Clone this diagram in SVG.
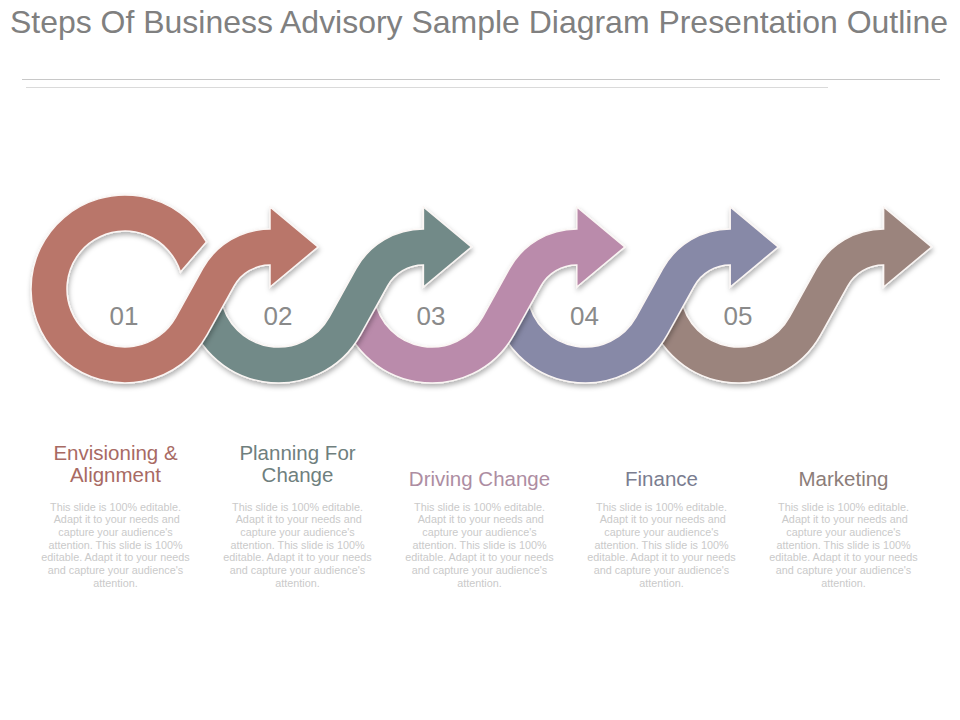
<svg xmlns="http://www.w3.org/2000/svg" xmlns:xlink="http://www.w3.org/1999/xlink" width="960" height="720" viewBox="0 0 960 720">
<style>
.t{font-family:"Liberation Sans",Arial,sans-serif}
.num{font-size:26px;fill:#8a8a8a;text-anchor:middle}
.hd{font-size:20.5px;text-anchor:middle}
.bd{font-size:10.8px;fill:#cacaca;text-anchor:middle}
.shape{stroke:#fbf6f4;stroke-width:1.5;stroke-linejoin:miter;filter:url(#sh)}
</style>
<defs>
<filter id="sh" x="-20%" y="-20%" width="140%" height="150%">
<feDropShadow dx="1" dy="3" stdDeviation="2.5" flood-color="#000" flood-opacity="0.3"/>
</filter>
<path id="sArrow" d="M -92.57 305.32 A 94 94 0 0 0 82.21 334.57 L 109.07 286.12 A 41 41 0 0 1 145 265 L 145 287 L 193 247 L 145 207 L 145 229 A 77 77 0 0 0 77.59 268.67 L 50.73 317.12 A 58 58 0 0 1 -57.12 299.07 Z"/>
</defs>
<rect width="960" height="720" fill="#ffffff"/>
<text class="t" x="10" y="33" font-size="32" fill="#808080" textLength="938" lengthAdjust="spacingAndGlyphs">Steps Of Business Advisory Sample Diagram Presentation Outline</text>
<line x1="22" y1="79.5" x2="940" y2="79.5" stroke="#c8c8c8" stroke-width="1"/>
<line x1="26" y1="87.5" x2="828" y2="87.5" stroke="#dadada" stroke-width="1"/>

<g id="step5">
<use xlink:href="#sArrow" href="#sArrow" x="738.6" class="shape" fill="#9B847D"/>
<text class="t num" x="738" y="325">05</text>
<text class="t hd" x="843.5" y="486" fill="#8C7D79">Marketing</text>
<text class="t bd" x="843.5" y="510.5">This slide is 100% editable.<tspan x="843.5" dy="12.67"> Adapt it to your needs and</tspan><tspan x="843.5" dy="12.67">capture your audience's</tspan><tspan x="843.5" dy="12.67">attention. This slide is 100%</tspan><tspan x="843.5" dy="12.67">editable.  Adapt it to your needs</tspan><tspan x="843.5" dy="12.67">and capture your audience's</tspan><tspan x="843.5" dy="12.67">attention.</tspan></text>
</g>

<g id="step4">
<use xlink:href="#sArrow" href="#sArrow" x="585.2" class="shape" fill="#8789A7"/>
<text class="t num" x="584.5" y="325">04</text>
<text class="t hd" x="661.5" y="486" fill="#7A7D90">Finance</text>
<text class="t bd" x="661.5" y="510.5">This slide is 100% editable.<tspan x="661.5" dy="12.67"> Adapt it to your needs and</tspan><tspan x="661.5" dy="12.67">capture your audience's</tspan><tspan x="661.5" dy="12.67">attention. This slide is 100%</tspan><tspan x="661.5" dy="12.67">editable.  Adapt it to your needs</tspan><tspan x="661.5" dy="12.67">and capture your audience's</tspan><tspan x="661.5" dy="12.67">attention.</tspan></text>
</g>

<g id="step3">
<use xlink:href="#sArrow" href="#sArrow" x="431.8" class="shape" fill="#BA8BAB"/>
<text class="t num" x="431" y="325">03</text>
<text class="t hd" x="479.5" y="486" fill="#AD8DA2">Driving Change</text>
<text class="t bd" x="479.5" y="510.5">This slide is 100% editable.<tspan x="479.5" dy="12.67"> Adapt it to your needs and</tspan><tspan x="479.5" dy="12.67">capture your audience's</tspan><tspan x="479.5" dy="12.67">attention. This slide is 100%</tspan><tspan x="479.5" dy="12.67">editable.  Adapt it to your needs</tspan><tspan x="479.5" dy="12.67">and capture your audience's</tspan><tspan x="479.5" dy="12.67">attention.</tspan></text>
</g>

<g id="step2">
<use xlink:href="#sArrow" href="#sArrow" x="278.4" class="shape" fill="#728A88"/>
<text class="t num" x="278" y="325">02</text>
<text class="t hd" x="297.5" y="460" fill="#6F7F7E">Planning For<tspan x="297.5" dy="22">Change</tspan></text>
<text class="t bd" x="297.5" y="510.5">This slide is 100% editable.<tspan x="297.5" dy="12.67"> Adapt it to your needs and</tspan><tspan x="297.5" dy="12.67">capture your audience's</tspan><tspan x="297.5" dy="12.67">attention. This slide is 100%</tspan><tspan x="297.5" dy="12.67">editable.  Adapt it to your needs</tspan><tspan x="297.5" dy="12.67">and capture your audience's</tspan><tspan x="297.5" dy="12.67">attention.</tspan></text>
</g>

<g id="step1">
<path class="shape" fill="#B9766B" transform="translate(125,0)" d="M 81.41 242 A 94 94 0 1 0 82.21 334.57 L 109.07 286.12 A 41 41 0 0 1 145 265 L 145 287 L 193 247 L 145 207 L 145 229 A 77 77 0 0 0 77.59 268.67 L 50.73 317.12 A 58 58 0 1 1 55.47 272.04 Z"/>
<text class="t num" x="124" y="325">01</text>
<text class="t hd" x="115.5" y="460" fill="#A86A63">Envisioning &amp;<tspan x="115.5" dy="22">Alignment</tspan></text>
<text class="t bd" x="115.5" y="510.5">This slide is 100% editable.<tspan x="115.5" dy="12.67"> Adapt it to your needs and</tspan><tspan x="115.5" dy="12.67">capture your audience's</tspan><tspan x="115.5" dy="12.67">attention. This slide is 100%</tspan><tspan x="115.5" dy="12.67">editable.  Adapt it to your needs</tspan><tspan x="115.5" dy="12.67">and capture your audience's</tspan><tspan x="115.5" dy="12.67">attention.</tspan></text>
</g>
</svg>
